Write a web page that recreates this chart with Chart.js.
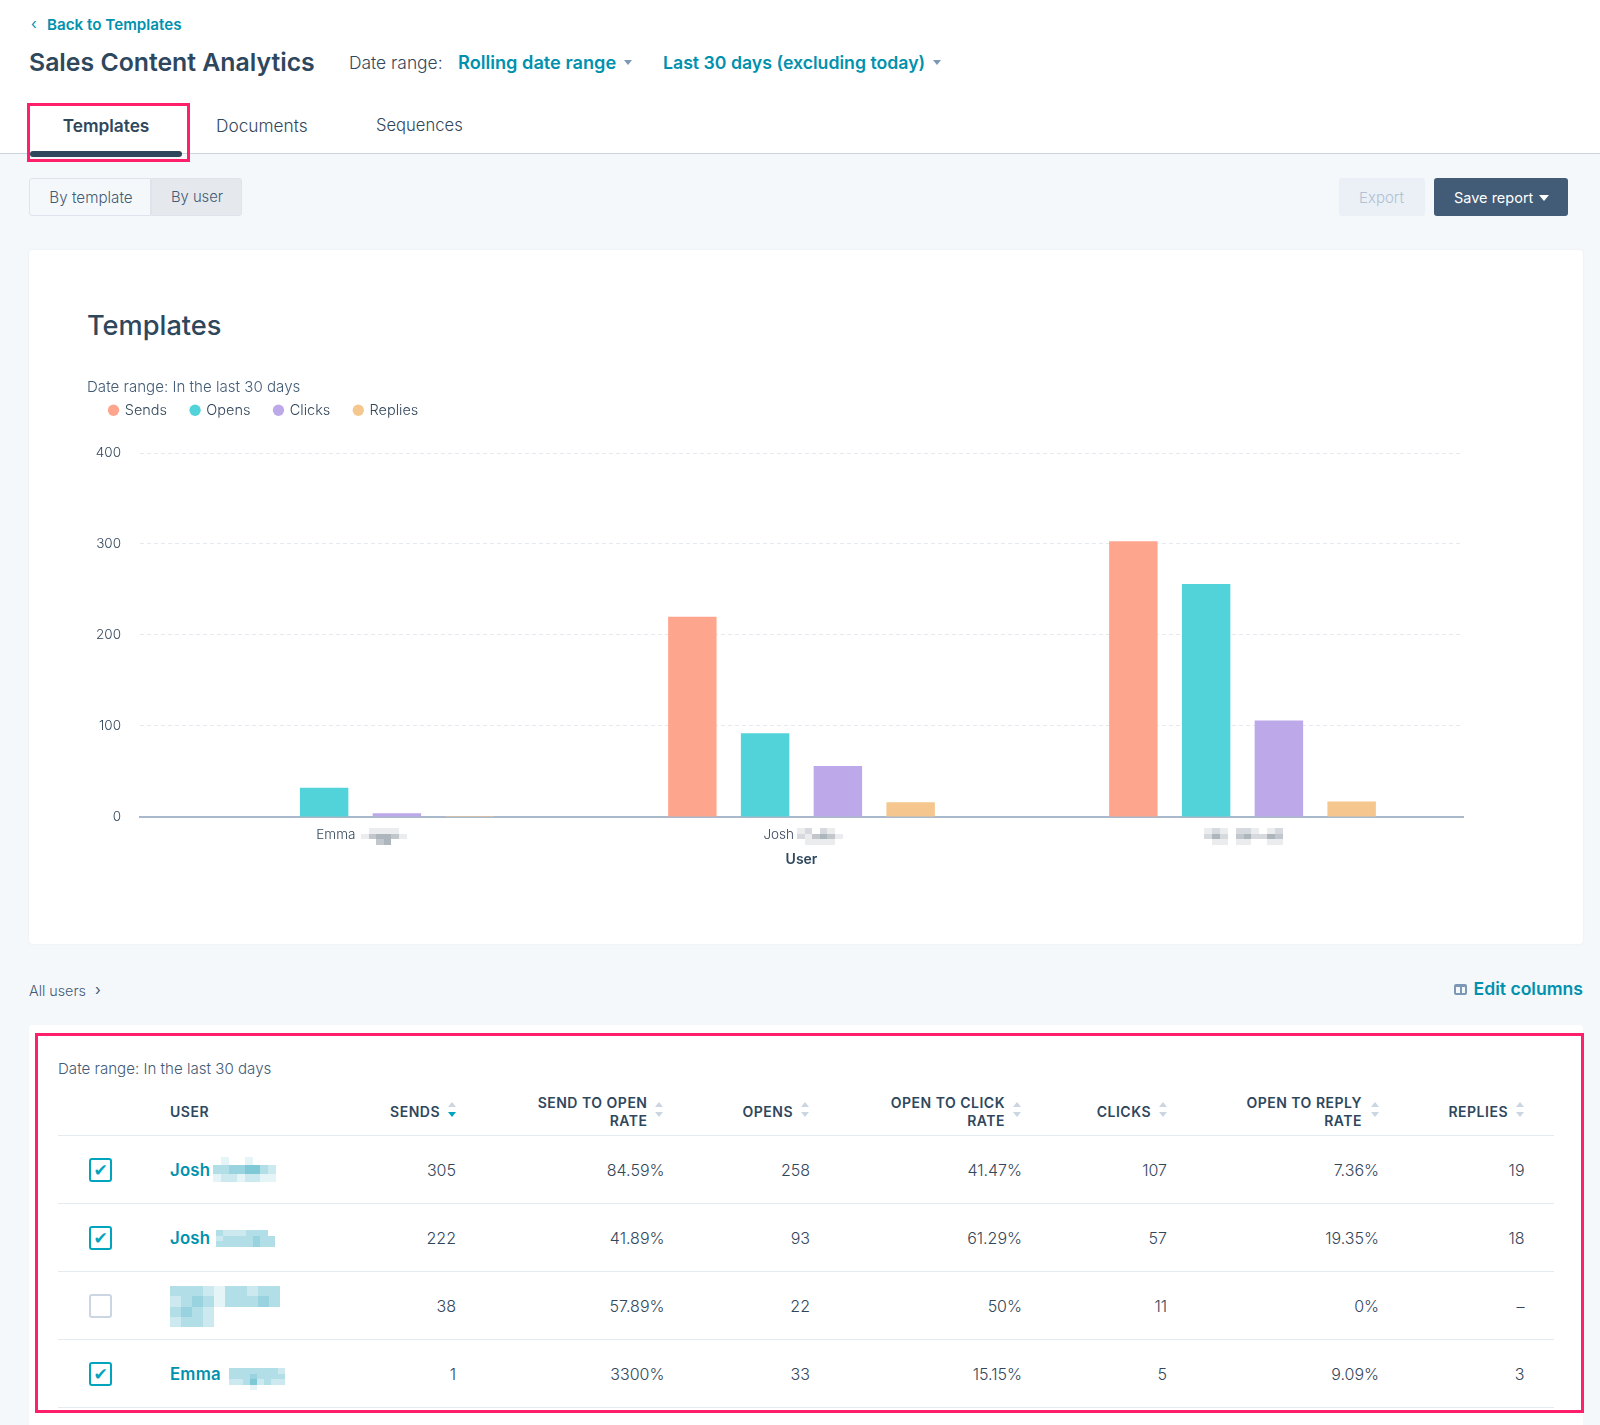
<!DOCTYPE html>
<html>
<head>
<meta charset="utf-8">
<title>Sales Content Analytics</title>
<script src="https://cdn.jsdelivr.net/npm/chart.js@4"></script>
<style>
  html, body { margin: 0; padding: 0; background: #f5f8fa; }
  body { position: relative; width: 1600px; height: 1425px; overflow: hidden; font-family: Inter, sans-serif; color: #33475b; }
  .box { position: absolute; box-sizing: border-box; }
  .txt { position: absolute; white-space: nowrap; transform: translateY(-50%); }
  .txt.right { transform: translate(-100%, -50%); }
  .txt.mid { transform: translate(-50%, -50%); }
  canvas { display: block; }
</style>
</head>
<body>
<div class="box" style="left:0;top:0;width:1600px;height:154px;background:#fff;border-bottom:1.5px solid #cbd6e2"></div>
<div class="box" style="left:30px;top:151px;width:152px;height:6px;background:#2e475d;border-radius:3px"></div>
<div class="box" style="left:27px;top:103px;width:163px;height:59px;border:3px solid #ff1f6b"></div>

<div class="box" style="left:29px;top:178px;width:122px;height:38px;background:#f5f8fa;border:1px solid #dfe3eb;border-radius:3px 0 0 3px"></div>
<div class="box" style="left:151px;top:178px;width:91px;height:38px;background:#e5e9ee;border:1px solid #dfe3eb;border-radius:0 3px 3px 0"></div>
<div class="box" style="left:1339px;top:178px;width:86px;height:38px;background:#eaf0f6;border-radius:3px"></div>
<div class="box" style="left:1434px;top:178px;width:134px;height:38px;background:#425b76;border-radius:3px"></div>

<div class="box" style="left:29px;top:250px;width:1554px;height:694px;background:#fff;border-radius:4px;box-shadow:0 0 2px rgba(200,210,220,.35)"></div>
<div class="box" style="left:29px;top:1025px;width:1554px;height:410px;background:#fff;border-radius:4px"></div>
<div class="box" style="left:35px;top:1033px;width:1549px;height:380px;border:3px solid #ff1f6b"></div>

<div class="box" style="left:60px;top:378px;width:1480px;height:490px">
  <canvas id="salesChart" width="1480" height="490"></canvas>
</div>

<script>
// ===============================
// Datos
// ===============================
const CATEGORIES = ["Emma", "Josh", ""];
const SERIES_NAMES = ["Sends", "Opens", "Clicks", "Replies"];
const SENDS = [0, 220, 303];
const OPENS = [32, 92, 256];
const CLICKS = [4, 56, 106];
const REPLIES = [1, 16, 17];
const SERIES_COLORS = ["#fea58e", "#51d3d9", "#bda9ea", "#f5c78e"];
const Y_TICKS = [0, 100, 200, 300, 400];

const ROW_NAMES = ["Josh", "Josh", "", "Emma"];
const ROW_CHECKED = [true, true, false, true];
const ROW_SENDS = ["305", "222", "38", "1"];
const ROW_SEND_OPEN = ["84.59%", "41.89%", "57.89%", "3300%"];
const ROW_OPENS = ["258", "93", "22", "33"];
const ROW_OPEN_CLICK = ["41.47%", "61.29%", "50%", "15.15%"];
const ROW_CLICKS = ["107", "57", "11", "5"];
const ROW_OPEN_REPLY = ["7.36%", "19.35%", "0%", "9.09%"];
const ROW_REPLIES = ["19", "18", "–", "3"];

const HEADERS = [["SENDS"], ["SEND TO OPEN", "RATE"], ["OPENS"], ["OPEN TO CLICK", "RATE"], ["CLICKS"], ["OPEN TO REPLY", "RATE"], ["REPLIES"]];

// ===============================
// Helpers de la pagina
// ===============================
function put(text, x, y, style, cls) {
  const el = document.createElement("div");
  el.className = "txt " + (cls || "");
  el.textContent = text;
  el.style.cssText = `left:${x}px;top:${y}px;` + style;
  document.body.appendChild(el);
  return el;
}

function shape(x, y, w, h, style) {
  const el = document.createElement("div");
  el.className = "box";
  el.style.cssText = `left:${x}px;top:${y}px;width:${w}px;height:${h}px;` + style;
  document.body.appendChild(el);
  return el;
}

function caret(x, y, color, up, size) {
  const s = size || 4;
  const side = up ? "border-bottom" : "border-top";
  shape(x - s, y, 0, 0, `border-left:${s}px solid transparent;border-right:${s}px solid transparent;${side}:${s + 1}px solid ${color}`);
}

// pixelado de los nombres ocultos
function mosaic(x, y, cw, ch, rgb, rows) {
  rows.forEach((row, r) => {
    [...row].forEach((c, i) => {
      if (c === "0") return;
      const left = Math.round(x + i * cw);
      const top = Math.round(y + r * ch);
      const w = Math.round(x + (i + 1) * cw) - left;
      const h = Math.round(y + (r + 1) * ch) - top;
      shape(left, top, w, h, `background:rgba(${rgb},${Number(c) / 10})`);
    });
  });
}

// ===============================
// Cabecera
// ===============================
const TEAL = "color:#0091ae;";
put("‹", 31, 23, "font-size:15px;" + TEAL);
put("Back to Templates", 47, 24, "font-size:15.2px;font-weight:600;" + TEAL);
put("Sales Content Analytics", 29, 62, "font-size:24.8px;font-weight:600;color:#2e475d;");
put("Date range:", 349, 61.5, "font-size:17.4px;font-weight:300;");
put("Rolling date range", 458, 61.5, "font-size:18.2px;font-weight:600;" + TEAL);
caret(628, 60, "#7c98b6");
put("Last 30 days (excluding today)", 663, 61.5, "font-size:17.7px;font-weight:600;" + TEAL);
caret(937, 60, "#7c98b6");

put("Templates", 106, 124.5, "font-size:17.3px;font-weight:600;color:#2e475d;", "mid");
put("Documents", 216, 124.5, "font-size:17.3px;font-weight:300;");
put("Sequences", 376, 124.5, "font-size:16.6px;font-weight:300;");

put("By template", 91, 197, "font-size:15.2px;font-weight:300;color:#425b76;", "mid");
put("By user", 197, 197, "font-size:14.8px;font-weight:300;color:#425b76;", "mid");
put("Export", 1381.5, 197, "font-size:15px;font-weight:300;color:#b0c1d4;", "mid");
put("Save report", 1454, 197, "font-size:14.5px;font-weight:400;color:#fff;");
caret(1544, 195, "#fff", false, 5);

put("Templates", 87, 325, "font-size:27.2px;font-weight:500;color:#2e475d;");
put("Date range: In the last 30 days", 87, 386, "font-size:15.1px;font-weight:300;color:#425b76;");

put("All users", 29, 990, "font-size:14.3px;font-weight:300;color:#425b76;");
put("›", 95, 989, "font-size:15px;color:#425b76;");
put("Edit columns", 1583, 988, "font-size:17.6px;font-weight:600;" + TEAL, "right");
shape(1454, 984, 13, 11, "border:2px solid #7c98b6;border-radius:2px;border-top-width:3px");
shape(1460, 986, 1.5, 8, "background:#7c98b6");

// ===============================
// Grafico
// ===============================
const legendGap = {
  id: "legendGap",
  beforeInit(chart) {
    const fit = chart.legend.fit;
    chart.legend.fit = function () {
      fit.call(this);
      this.height += 25.5;
    };
  },
};

new Chart(document.getElementById("salesChart"), {
  type: "bar",
  plugins: [legendGap],
  data: {
    labels: CATEGORIES,
    datasets: [SENDS, OPENS, CLICKS, REPLIES].map((values, i) => ({
      label: SERIES_NAMES[i],
      data: values,
      backgroundColor: SERIES_COLORS[i],
      categoryPercentage: 0.66,
      barPercentage: 0.666,
    })),
  },
  options: {
    responsive: false,
    animation: false,
    layout: { padding: { left: 25.5, right: 77, top: 1, bottom: 0 } },
    plugins: {
      tooltip: { enabled: false },
      legend: {
        position: "top",
        align: "start",
        labels: {
          usePointStyle: true,
          pointStyle: "circle",
          boxWidth: 8,
          boxHeight: 8,
          padding: 24,
          color: "#33475b",
          font: { family: "Inter", size: 14.5, weight: "300" },
        },
      },
    },
    scales: {
      x: {
        grid: { display: false },
        border: { color: "#a9b9cb", width: 2 },
        ticks: {
          color: "#33475b",
          padding: 2,
          maxRotation: 0,
          font: { family: "Inter", size: 13.5, weight: "300" },
          callback(value, i) {
            return CATEGORIES[i] + "\u00A0".repeat(CATEGORIES[i] === "Emma" ? 13 : 12);
          },
        },
        title: {
          display: true,
          text: "User",
          color: "#2e475d",
          padding: { top: 6.1, bottom: 0 },
          font: { family: "Inter", size: 14, weight: "600" },
        },
      },
      y: {
        min: 0,
        max: 400,
        afterFit(scale) { scale.width = 54.5; },
        afterBuildTicks(scale) { scale.ticks = Y_TICKS.map((value) => ({ value })); },
        grid: { color: "#e5eaf0", drawTicks: false },
        border: { display: false, dash: [4, 3] },
        ticks: {
          color: "#33475b",
          padding: 19,
          font: { family: "Inter", size: 13.5, weight: "300" },
        },
      },
    },
  },
});

// nombres pixelados bajo el eje
mosaic(361, 828, 7.6, 5.6, "51,71,91", ["011110", "134431", "003400"]);
mosaic(797, 828, 7.6, 5.6, "51,71,91", ["120210", "213431", "011110"]);
mosaic(1204, 828, 7.9, 5.6, "51,71,91", ["1210221012", "2420342243", "0110110011"]);

// ===============================
// Tabla
// ===============================
const LINE_Y = [1135, 1203, 1271, 1339, 1407];
const ROW_Y = [1170, 1238, 1306, 1374];
const COL_RIGHT = [456, 664.5, 810, 1022, 1167, 1379, 1524.5];
const HEAD_RIGHT = [440, 647.5, 793, 1005, 1151, 1362, 1508];
const ARROW_X = [452, 659, 805, 1017, 1163, 1374.5, 1520];
const COLUMNS = [ROW_SENDS, ROW_SEND_OPEN, ROW_OPENS, ROW_OPEN_CLICK, ROW_CLICKS, ROW_OPEN_REPLY, ROW_REPLIES];

put("Date range: In the last 30 days", 58, 1068, "font-size:15.1px;font-weight:300;color:#425b76;");
const HEAD_STYLE = "font-size:14px;font-weight:600;color:#2e475d;letter-spacing:.5px;";
put("USER", 170, 1111, HEAD_STYLE);

HEADERS.forEach((lines, c) => {
  if (lines.length === 1) {
    put(lines[0], HEAD_RIGHT[c], 1111, HEAD_STYLE, "right");
  } else {
    put(lines[0], HEAD_RIGHT[c], 1102, HEAD_STYLE, "right");
    put(lines[1], HEAD_RIGHT[c], 1120, HEAD_STYLE, "right");
  }
  caret(ARROW_X[c], 1102, "#cbd6e2", true);
  caret(ARROW_X[c], 1112, c === 0 ? "#00a4bd" : "#cbd6e2", false);
});

LINE_Y.forEach((y) => shape(58, y, 1496, 1, "background:#e5eaf0"));

ROW_Y.forEach((y, r) => {
  const on = ROW_CHECKED[r];
  shape(89, y - 12, 23, 24, `border:2px solid ${on ? "#00a4bd" : "#cbd6e2"};border-radius:3px;background:#fff`);
  if (on) put("✔", 100.5, y, "font-size:17px;color:#00a4bd;font-family:'DejaVu Sans';", "mid");
  if (ROW_NAMES[r]) put(ROW_NAMES[r], 170, y, "font-size:16.8px;font-weight:600;letter-spacing:.2px;" + TEAL);
  COLUMNS.forEach((col, c) => {
    put(col[r], COL_RIGHT[c], y, "font-size:16px;font-weight:300;", "right");
  });
});

mosaic(213, 1157, 7.9, 8.3, "0,145,174", ["01001000", "33445532", "12212211"]);
mosaic(216, 1230, 7.4, 5.6, "0,145,174", ["32223330", "23333433", "33333433"]);
mosaic(170, 1286, 11, 10.3, "0,145,174", ["3332133233", "2343133343", "3432000000", "2332000000"]);
mosaic(229, 1368, 7, 5.6, "0,145,174", ["33333332", "33343333", "22352322", "00010000"]);
</script>
</body>
</html>
